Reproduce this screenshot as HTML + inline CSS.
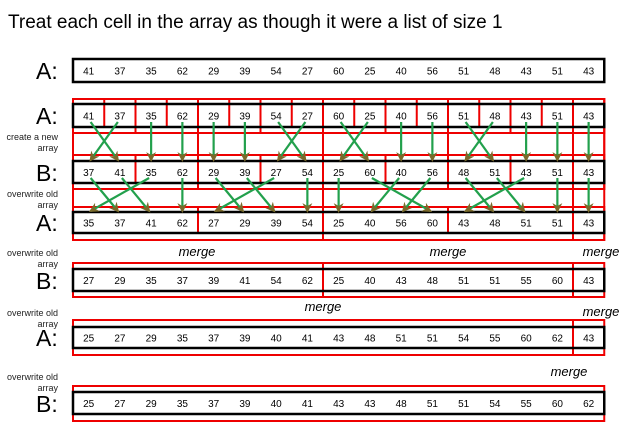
<!DOCTYPE html>
<html><head><meta charset="utf-8"><style>
html,body{margin:0;padding:0;background:#fff;width:628px;height:432px;overflow:hidden}
svg{display:block;font-family:"Liberation Sans",sans-serif}
</style></head><body>
<svg id="d" width="628" height="432" viewBox="0 0 628 432" xmlns="http://www.w3.org/2000/svg">
<defs><marker id="ah" viewBox="0 0 10 10" refX="8" refY="5" markerWidth="4.5" markerHeight="4.5" orient="auto"><path d="M0,0L10,5L0,10L3,5z" fill="#7a6a2b"/></marker></defs>
<text x="8" y="28" font-size="19" fill="#000">Treat each cell in the array as though it were a list of size 1</text>
</svg>
<script>
const row1=[41,37,35,62,29,39,54,27,60,25,40,56,51,48,43,51,43];
const row3=[37,41,35,62,29,39,27,54,25,60,40,56,48,51,43,51,43];
const row4=[35,37,41,62,27,29,39,54,25,40,56,60,43,48,51,51,43];
const row5=[27,29,35,37,39,41,54,62,25,40,43,48,51,51,55,60,43];
const row6=[25,27,29,35,37,39,40,41,43,48,51,51,54,55,60,62,43];
const row7=[25,27,29,35,37,39,40,41,43,43,48,51,51,54,55,60,62];
const svg=document.getElementById('d');const NS='http://www.w3.org/2000/svg';
const X0=73,CW=31.25;
const cx=i=>X0+CW*(i+0.5), ex=i=>X0+CW*i;
function el(t,a,p){const e=document.createElementNS(NS,t);for(const k in a)e.setAttribute(k,a[k]);(p||svg).appendChild(e);return e;}
function txt(s,x,y,size,anchor,extra){const e=el('text',Object.assign({x:x,y:y,'font-size':size,'text-anchor':anchor||'middle',fill:'#000'},extra||{}));e.textContent=s;return e;}
function redRect(i0,n,y,h){const r=el('rect',{x:ex(i0),y:y,width:CW*n,height:h,fill:'none',stroke:'#e00',"stroke-width":2});

}
function redLine(x,y1,y2){const l=el('line',{x1:x,y1:y1,x2:x,y2:y2,stroke:'#e00','stroke-width':2});

}
function groups(size,fn){for(let i=0;i<17;i+=size)fn(i,Math.min(size,17-i));}
groups(2,(i,n)=>{redRect(i,n,99,34);if(n===2)redLine(ex(i+1),99,128);});
groups(4,(i,n)=>{redRect(i,n,99,90);redRect(i,n,155,34);if(n>2)redLine(ex(i+2),155,184);});
groups(8,(i,n)=>{redRect(i,n,99,141);redRect(i,n,207,33);if(n>4)redLine(ex(i+4),207,234);});
function splitRed(sizes,y,h){let i=0;for(const s of sizes){redRect(i,s,y,h);i+=s;}}
splitRed([8,8,1],263,34);splitRed([16,1],320,35);splitRed([17],386,35);
function row(vals,y0,h,label,ly){
 const b=el('rect',{x:X0,y:y0,width:CW*17,height:h,fill:'none',stroke:'#000','stroke-width':2.5});
 
 
 vals.forEach((v,i)=>{const t=txt(String(v),cx(i),y0+h/2+4,10);
 
 });
 const l=txt(label,36,ly,23,'start');
 
 
}
row(row1,59,23,'A:',79);
row(row1,104,23,'A:',124);
row(row3,161,22,'B:',181);
row(row4,212,21,'A:',231);
row(row5,269,22,'B:',289);
row(row6,327,21,'A:',346);
row(row7,392,22,'B:',412);
[['create a new',140],['array',151],['overwrite old',197],['array',208],['overwrite old',256],['array',267],['overwrite old',316],['array',327],['overwrite old',380],['array',391]].forEach(([s,y])=>{const t=txt(s,58,y,9,'end',{fill:'#222'});

});
[[197,256],[448,256],[601,256],[323,311],[601,316],[569,376]].forEach(([x,y])=>{const t=txt('merge',x,y,13,'middle',{'font-style':'italic'});

});
function arrows(from,to,size,y1,y2){
 for(let g=0;g<17;g+=size){const used={};
  for(let i=g;i<Math.min(g+size,17);i++){let j=g;while(j<Math.min(g+size,17)&&(to[j]!==from[i]||used[j]))j++;used[j]=1;
   const dx=j===i?0:(j>i?2:-2);
   const a=el('line',{x1:cx(i)+dx,y1:y1,x2:cx(j)-dx,y2:y2,stroke:'#22a04c','stroke-width':2.2,'marker-end':'url(#ah)'});
   
   }}
}
arrows(row1,row3,2,122,160);
arrows(row3,row4,4,178,211);
</script>
</body></html>
